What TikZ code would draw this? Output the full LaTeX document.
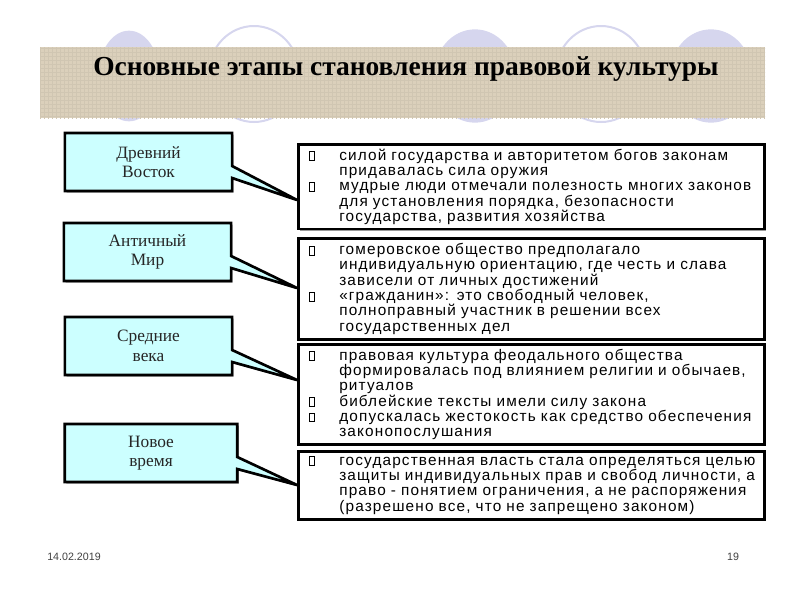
\documentclass[tikz,border=0pt]{standalone}
\usepackage{fontspec}
\setmainfont{Liberation Serif}
\newfontfamily\bodyfont{Liberation Sans}[LetterSpace=7.5]
\newfontfamily\footfont{Liberation Sans}
\usetikzlibrary{positioning, shadows, patterns, backgrounds}

\definecolor{bandfill}{RGB}{219,208,187}
\definecolor{ringcol}{RGB}{214,214,238}
\definecolor{eracyan}{RGB}{204,255,255}

% empty bullet box, as printed
\newcommand{\mk}{\hspace*{6.25pt}\makebox[22.5pt][l]{{\fboxsep=0pt\fboxrule=0.5pt\fbox{\rule{0pt}{6pt}\rule{3pt}{0pt}}}}}
\newcommand{\ind}{\hspace*{28.75pt}}
% outline of an era box with its pointer
\newcommand{\eraedge}[2]{\draw[eraline] (#1.north west) -- (#1.north east) -- ([yshift=-3pt]#1.east) -- (#2) -- ([yshift=-12pt]#1.east) -- (#1.south east) -- (#1.south west) -- cycle;}

\begin{document}
\begin{tikzpicture}[
    x=0.75pt, y=-0.75pt,
    font=\rmfamily,
    shade/.style={drop shadow={shadow xshift=1.2pt, shadow yshift=-1.2pt, fill=black!40, opacity=1}},
    era/.style={rectangle, minimum width=125pt, minimum height=43pt, align=center, text=black!85, font=\rmfamily\fontsize{13}{14.5}\selectfont},
    eraline/.style={draw=black, line width=2pt, fill=eracyan, shade},
    facts/.style={rectangle, draw=black, line width=2pt, fill=white, anchor=north west, minimum width=349.5pt, inner xsep=2pt, text width=345.5pt, align=left, font=\bodyfont\fontsize{11.5}{11.5}\selectfont, shade},
    ring/.style={draw=ringcol, line width=1.5pt, fill=white},
    disc/.style={fill=ringcol}
]
\useasboundingbox (0,0) rectangle (800,600);

% circles behind the title band
\fill[disc] (129,76) ellipse [x radius=23pt, y radius=34pt];
\draw[ring] (254,74) ellipse [x radius=34pt, y radius=36pt];
\fill[disc] (475,76) ellipse [x radius=31pt, y radius=35pt];
\draw[ring] (601,74) ellipse [x radius=34pt, y radius=36pt];
\fill[disc] (711,76) ellipse [x radius=31pt, y radius=35pt];

% title band
\fill[bandfill] (40,47) rectangle (765,118);
\fill[pattern=grid, pattern color=bandfill!95!black] (40,47) rectangle (765,118);
\node[anchor=base, font=\rmfamily\bfseries\fontsize{20.6}{24}\selectfont] (title) at (406,75) {Основные этапы становления правовой культуры};

% fact boxes
\node[facts, minimum height=63pt] (f1) at (297,143) {%
\mk силой государства и авторитетом богов законам\\
\ind придавалась сила оружия\\
\mk мудрые люди отмечали полезность многих законов\\
\ind для установления порядка, безопасности\\
\ind государства, развития хозяйства};
\node[facts, minimum height=75.75pt] (f2) at (297,237) {%
\mk гомеровское общество предполагало\\
\ind индивидуальную ориентацию, где честь и слава\\
\ind зависели от личных достижений\\
\mk «гражданин»: это свободный человек,\\
\ind полноправный участник в решении всех\\
\ind государственных дел};
\node[facts, minimum height=73.5pt] (f3) at (297,343) {%
\mk правовая культура феодального общества\\
\ind формировалась под влиянием религии и обычаев,\\
\ind ритуалов\\
\mk библейские тексты имели силу закона\\
\mk допускалась жестокость как средство обеспечения\\
\ind законопослушания};
\node[facts, minimum height=51pt] (f4) at (297,450) {%
\mk государственная власть стала определяться целью\\
\ind защиты индивидуальных прав и свобод личности, а\\
\ind право - понятием ограничения, а не распоряжения\\
\ind (разрешено все, что не запрещено законом)};

% pointer tips on the fact boxes
\coordinate (p1) at (f1.west |- 0,200);
\coordinate (p2) at (f2.west |- 0,288);
\coordinate (p3) at (f3.west |- 0,380);
\coordinate (p4) at (f4.west |- 0,485);

% era boxes
\node[era] (east) at (148.5,162) {Древний\\Восток};
\node[era] (antiq) at (147.5,252) {Античный\\Мир};
\node[era] (middle) at (148.5,346) {Средние\\века};
\node[era, minimum width=129pt] (modern) at (151,453) {Новое\\время};

\begin{scope}[on background layer]
\eraedge{east}{p1}
\eraedge{antiq}{p2}
\eraedge{middle}{p3}
\eraedge{modern}{p4}
\end{scope}

% footer
\node[font=\footfont\fontsize{8}{9.6}\selectfont, text=black!75] (date) at (74,557) {14.02.2019};
\node[font=\footfont\fontsize{8}{9.6}\selectfont, text=black!75] (page) at (733,557) {19};
\end{tikzpicture}
\end{document}
